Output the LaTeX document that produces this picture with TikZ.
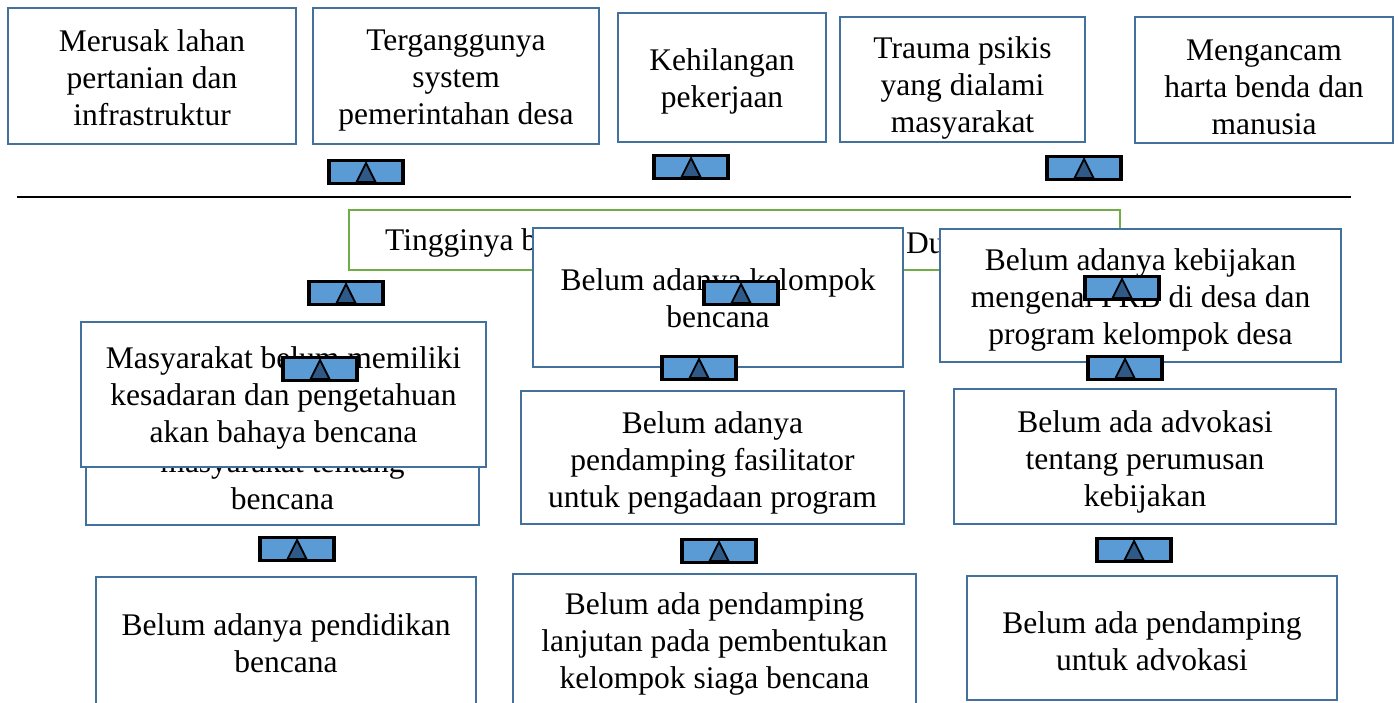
\documentclass[tikz,border=0pt]{standalone}
\usepackage{fontspec}
\setmainfont{Liberation Serif}
\usetikzlibrary{calc}
\definecolor{boxblue}{HTML}{41719C}
\definecolor{boxgreen}{HTML}{70AD47}
\definecolor{markblue}{HTML}{5B9BD5}
\definecolor{tridark}{HTML}{2F5A88}
\tikzset{
  box/.style={draw=boxblue, line width=2.2pt, fill=white, inner sep=0pt},
  gbox/.style={draw=boxgreen, line width=2.2pt, fill=white, inner sep=0pt},
  txt/.style={inner sep=0pt, align=center, font=\fontsize{31.5}{37}\selectfont},
  mk/.style={draw=black, line width=3.5pt, fill=markblue, minimum width=74pt, minimum height=23pt, inner sep=0pt},
  tri/.style={draw=black, line width=1.8pt, fill=tridark, line join=miter},
  axis/.style={draw=black, line width=2.6pt}
}
\newcommand\mymark[3]{%
  \node[mk] (#1) at (#2,#3) {};
  \draw[tri] ($(#1.center)+(-9.5,10)$) -- ($(#1.center)+(0,-9)$) -- ($(#1.center)+(9.5,10)$) -- cycle;}
% box by corners: name, x1, y1, x2, y2, text shift, text
\newcommand\mybox[7]{%
  \node[box, minimum width={#4-#2}, minimum height={#5-#3}] (#1) at ({(#2+#4)/2},{(#3+#5)/2}) {};
  \node[txt] (#1t) at ($(#1.center)+(0,#6)$) {#7};}
\begin{document}
\begin{tikzpicture}[x=1pt,y=-1pt]
\useasboundingbox (0,0) rectangle (1398,702);
% top row: effects
\mybox{e1}{8}{8}{296}{144}{2}{Merusak lahan\\pertanian dan\\infrastruktur}
\mybox{e2}{313}{8}{599}{144}{5}{Terganggunya\\system\\pemerintahan desa}
\mybox{e3}{618}{13}{826}{142}{4}{Kehilangan\\pekerjaan}
\mybox{e4}{840}{17}{1085}{142}{8}{Trauma psikis\\yang dialami\\masyarakat}
\mybox{e5}{1135}{17}{1393}{143}{7}{Mengancam\\harta benda dan\\manusia}
\mymark{m1}{366}{172}
\mymark{m2}{691}{167}
\mymark{m3}{1084}{168}
% divider line
\coordinate (l1) at (17,197);
\coordinate (l2) at (1351,197);
\draw[axis] (l1) -- (l2);
% core problem
\node[gbox, minimum width=771pt, minimum height=60pt] (core) at (734.5,240) {};
\node[txt, anchor=west] (coret1) at (385,243) {Tingginya b};
\node[txt, anchor=west] (coret2) at (906,243) {Du};
% hidden back box
\node[box, minimum width=393pt, minimum height=105pt] (back) at (282.5,472.5) {};
\node[txt] (backtxt) at (282.5,480) {masyarakat tentang\\bencana};
\mymark{m4}{346}{293}
% causes
\mybox{c2}{533}{228}{903}{367}{1}{Belum adanya kelompok\\bencana}
\mybox{c3}{940}{229}{1341}{362}{4}{Belum adanya kebijakan\\mengenai PRB di desa dan\\program kelompok desa}
\mymark{m5}{741}{293}
\mymark{m12}{1122}{288}
\mymark{m7}{699}{368}
\mymark{m8}{1125}{368}
\mybox{c1}{81}{322}{486}{467}{3.5}{Masyarakat belum memiliki\\kesadaran dan pengetahuan\\akan bahaya bencana}
\mymark{m6}{320}{369}
\mybox{d2}{521}{391}{904}{524}{5}{Belum adanya\\pendamping fasilitator\\untuk pengadaan program}
\mybox{d3}{954}{389}{1336}{524}{5}{Belum ada advokasi\\tentang perumusan\\kebijakan}
\mymark{m9}{297}{549}
\mymark{m10}{719}{551}
\mymark{m11}{1134}{550}
\mybox{f1}{96}{577}{476}{706}{2}{Belum adanya pendidikan\\bencana}
\mybox{f2}{513}{574}{916}{706}{4}{Belum ada pendamping\\lanjutan pada pembentukan\\kelompok siaga bencana}
\mybox{f3}{967}{576}{1337}{700}{3}{Belum ada pendamping\\untuk advokasi}
\end{tikzpicture}
\end{document}
